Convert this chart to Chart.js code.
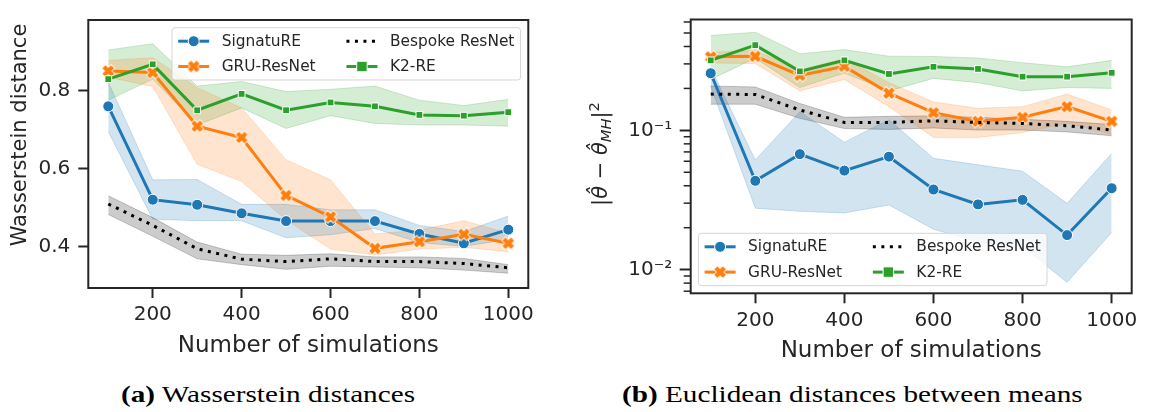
<!DOCTYPE html>
<html>
<head>
<meta charset="utf-8">
<script src="https://cdn.jsdelivr.net/npm/chart.js@4.4.1/dist/chart.umd.min.js"></script>
<style>
  html, body { margin: 0; padding: 0; background: #ffffff; }
  body { position: relative; width: 1150px; height: 412px; overflow: hidden; font-family: 'DejaVu Sans', sans-serif; }
  .panel { position: absolute; top: 0; }
  #panelA { left: 0; }
  #panelB { left: 575px; }
  .ylab { position: absolute; width: 300px; height: 30px; line-height: 30px; text-align: center;
          color: #262626; white-space: nowrap; transform: rotate(-90deg); font-size: 21px; }
  #ylabA { left: -131.5px; top: 119.5px; }
  #ylabB { left: 450px; top: 139px; }
  .ylab sub, .ylab sup { font-size: 70%; line-height: 0; }
  .ylab sub { vertical-align: -0.3em; }
  .ylab sup { vertical-align: 0.55em; }
  .cap { position: absolute; top: 381px; height: 28px; line-height: 28px; color: #000;
         font-family: 'Liberation Serif', serif; font-size: 23px; white-space: nowrap;
         transform-origin: 0 50%; transform: scaleX(1.27); }
  #capA { left: 121px; }
  #capB { left: 622px; }
</style>
</head>
<body>
<div class="panel" id="panelA"><canvas id="chartA" width="545" height="380"></canvas></div>
<div class="panel" id="panelB"><canvas id="chartB" width="575" height="380"></canvas></div>
<div class="ylab" id="ylabA">Wasserstein distance</div>
<div class="ylab" id="ylabB">|<i>θ̂</i> − <i>θ̂</i><sub><i>MH</i></sub>|<sup>2</sup></div>
<div class="cap" id="capA"><b>(a)</b> Wasserstein distances</div>
<div class="cap" id="capB"><b>(b)</b> Euclidean distances between means</div>
<script>
// ---- data ---------------------------------------------------------------
const SIMS = [100, 200, 300, 400, 500, 600, 700, 800, 900, 1000];
const SIM_TICKS = [200, 400, 600, 800, 1000];

// (a) Wasserstein distance: mean and band per method
const WASS_SIGNATURE    = [0.760, 0.520, 0.507, 0.485, 0.465, 0.465, 0.465, 0.432, 0.408, 0.443];
const WASS_SIGNATURE_LO = [0.695, 0.470, 0.466, 0.466, 0.422, 0.430, 0.446, 0.410, 0.400, 0.418];
const WASS_SIGNATURE_HI = [0.822, 0.571, 0.572, 0.508, 0.508, 0.494, 0.494, 0.454, 0.438, 0.478];
const WASS_GRU    = [0.851, 0.847, 0.709, 0.680, 0.531, 0.476, 0.395, 0.412, 0.431, 0.408];
const WASS_GRU_LO = [0.835, 0.811, 0.611, 0.567, 0.468, 0.393, 0.378, 0.393, 0.398, 0.386];
const WASS_GRU_HI = [0.878, 0.885, 0.808, 0.756, 0.623, 0.571, 0.432, 0.442, 0.466, 0.434];
const WASS_RESNET    = [0.509, 0.454, 0.394, 0.367, 0.361, 0.368, 0.361, 0.361, 0.356, 0.345];
const WASS_RESNET_LO = [0.482, 0.426, 0.368, 0.353, 0.341, 0.349, 0.347, 0.345, 0.339, 0.331];
const WASS_RESNET_HI = [0.530, 0.474, 0.411, 0.380, 0.377, 0.381, 0.373, 0.373, 0.369, 0.353];
const WASS_K2    = [0.830, 0.868, 0.750, 0.792, 0.750, 0.770, 0.760, 0.738, 0.736, 0.745];
const WASS_K2_LO = [0.776, 0.830, 0.712, 0.756, 0.703, 0.736, 0.716, 0.712, 0.712, 0.709];
const WASS_K2_HI = [0.905, 0.921, 0.812, 0.824, 0.798, 0.804, 0.812, 0.776, 0.762, 0.778];
const WASS_TICKS = [0.4, 0.6, 0.8];

// (b) squared distance between posterior means (log axis)
const EUC_SIGNATURE    = [0.257, 0.0434, 0.0675, 0.0514, 0.0647, 0.0376, 0.0294, 0.0317, 0.0177, 0.0384];
const EUC_SIGNATURE_LO = [0.207, 0.0276, 0.0262, 0.0255, 0.0291, 0.0195, 0.0158, 0.0146, 0.0081, 0.0185];
const EUC_SIGNATURE_HI = [0.280, 0.0613, 0.136, 0.0822, 0.119, 0.063, 0.0566, 0.0509, 0.0299, 0.0683];
const EUC_GRU    = [0.337, 0.340, 0.248, 0.288, 0.185, 0.134, 0.116, 0.124, 0.148, 0.116];
const EUC_GRU_LO = [0.305, 0.302, 0.192, 0.232, 0.148, 0.089, 0.089, 0.0964, 0.113, 0.0938];
const EUC_GRU_HI = [0.364, 0.374, 0.272, 0.327, 0.220, 0.160, 0.144, 0.148, 0.182, 0.140];
const EUC_RESNET    = [0.182, 0.181, 0.140, 0.114, 0.114, 0.117, 0.114, 0.112, 0.108, 0.1005];
const EUC_RESNET_LO = [0.154, 0.154, 0.122, 0.103, 0.1016, 0.104, 0.1005, 0.1005, 0.0974, 0.0914];
const EUC_RESNET_HI = [0.208, 0.205, 0.156, 0.124, 0.126, 0.127, 0.124, 0.120, 0.116, 0.110];
const EUC_K2    = [0.318, 0.409, 0.265, 0.318, 0.254, 0.286, 0.276, 0.243, 0.243, 0.259];
const EUC_K2_LO = [0.232, 0.330, 0.203, 0.258, 0.192, 0.236, 0.220, 0.192, 0.203, 0.200];
const EUC_K2_HI = [0.480, 0.506, 0.355, 0.380, 0.341, 0.339, 0.331, 0.306, 0.286, 0.318];
const EUC_MAJOR_TICKS = [0.01, 0.1];
const EUC_MAJOR_LABELS = ['10⁻²', '10⁻¹'];
const EUC_MINOR_TICKS = [0.007, 0.008, 0.009, 0.02, 0.03, 0.04, 0.05, 0.06, 0.07, 0.08, 0.09, 0.2, 0.3, 0.4, 0.5, 0.6];

// ---- styling --------------------------------------------------------------
const INK = '#262626';
Chart.defaults.font.family = "'DejaVu Sans', sans-serif";
Chart.defaults.color = INK;

function rgba(hex, a) {
  const n = parseInt(hex.slice(1), 16);
  return `rgba(${(n >> 16) & 255}, ${(n >> 8) & 255}, ${n & 255}, ${a})`;
}

// filled "X" marker with a thin white outline
function xMarker(color) {
  const c = document.createElement('canvas');
  c.width = c.height = 18;
  const g = c.getContext('2d');
  g.translate(9, 9);
  g.rotate(Math.PI / 4);
  const s = 6.1, h = 2.2;
  const pts = [[h, s], [h, h], [s, h], [s, -h], [h, -h], [h, -s], [-h, -s], [-h, -h], [-s, -h], [-s, h], [-h, h], [-h, s]];
  g.beginPath();
  pts.forEach((p, i) => (i ? g.lineTo(p[0], p[1]) : g.moveTo(p[0], p[1])));
  g.closePath();
  g.lineWidth = 1.6;
  g.strokeStyle = '#ffffff';
  g.stroke();
  g.fillStyle = color;
  g.fill();
  return c;
}

const STYLE = {
  'SignatuRE':      { color: '#1f77b4', marker: 'circle', radius: 5.5, legendRadius: 5.5 },
  'GRU-ResNet':     { color: '#ff7f0e', marker: xMarker('#ff7f0e'), radius: 5.5, legendRadius: 5.5 },
  'Bespoke ResNet': { color: '#000000', marker: null, dash: [3, 5.5] },
  'K2-RE':          { color: '#2ca02c', marker: 'rect', radius: 4.8, legendRadius: 7.4 }
};

function buildDatasets(table) {
  const out = [];
  table.forEach((s, k) => {
    const st = STYLE[s.name];
    const pts = arr => SIMS.map((x, i) => ({ x, y: arr[i] }));
    const band = rgba(st.color, 0.2);
    out.push({ data: pts(s.hi), borderColor: band, backgroundColor: band, borderWidth: 1,
               pointRadius: 0, fill: '+1', order: 20 });
    out.push({ data: pts(s.lo), borderColor: band, borderWidth: 1, pointRadius: 0, fill: false, order: 20 });
    out.push({
      label: s.name, legendRank: k, data: pts(s.mean),
      borderColor: st.color, borderWidth: 3, borderDash: st.dash || [], borderCapStyle: 'butt',
      pointStyle: st.marker || 'circle', pointRadius: st.marker ? st.radius : 0,
      pointBackgroundColor: st.color, pointBorderColor: '#ffffff', pointBorderWidth: 1,
      fill: false, order: 10 - k
    });
  });
  return out;
}

// ---- plugins: box frame, minor log ticks, two-column legend ---------------
const axesFrame = {
  id: 'axesFrame',
  afterDraw(chart, args, opts) {
    const { ctx, chartArea: a } = chart;
    ctx.save();
    ctx.strokeStyle = INK;
    if (opts.minorTicks) {
      const y = chart.scales.y;
      ctx.lineWidth = 1.5;
      opts.minorTicks.forEach(v => {
        const py = y.getPixelForValue(v);
        ctx.beginPath();
        ctx.moveTo(a.left - 7, py);
        ctx.lineTo(a.left, py);
        ctx.stroke();
      });
    }
    ctx.lineWidth = 2;
    ctx.strokeRect(a.left, a.top, a.right - a.left, a.bottom - a.top);
    ctx.restore();
  }
};

const seriesLegend = {
  id: 'seriesLegend',
  afterDraw(chart, args, opts) {
    const { ctx, chartArea: a } = chart;
    const fs = 15.4;
    const items = chart.data.datasets.filter(d => d.label).sort((p, q) => p.legendRank - q.legendRank);
    const ncol = 2, nrow = Math.ceil(items.length / ncol);
    ctx.save();
    ctx.font = `${fs}px 'DejaVu Sans', sans-serif`;
    const padX = 6.2, padY = 5, rowH = 17, gapY = 8.3, handle = 31, handlePad = 12.5, colGap = 30.8, axPad = 7.7;
    const colW = [];
    for (let c = 0; c < ncol; c++) {
      let w = 0;
      for (let r = 0; r < nrow; r++) {
        const it = items[c * nrow + r];
        if (it) w = Math.max(w, ctx.measureText(it.label).width);
      }
      colW.push(w);
    }
    const boxW = padX * 2 + colW.reduce((s, w) => s + handle + handlePad + w, 0) + colGap * (ncol - 1);
    const boxH = padY * 2 + nrow * rowH + (nrow - 1) * gapY;
    const bx = opts.corner === 'upper right' ? a.right - axPad - boxW : a.left + axPad;
    const by = opts.corner === 'upper right' ? a.top + axPad : a.bottom - axPad - boxH;

    ctx.beginPath();
    ctx.roundRect(bx, by, boxW, boxH, 3);
    ctx.fillStyle = 'rgba(255,255,255,0.8)';
    ctx.fill();
    ctx.lineWidth = 1;
    ctx.strokeStyle = 'rgba(204,204,204,0.8)';
    ctx.stroke();

    let cx = bx + padX;
    for (let c = 0; c < ncol; c++) {
      for (let r = 0; r < nrow; r++) {
        const it = items[c * nrow + r];
        if (!it) continue;
        const st = STYLE[it.label];
        const yy = by + padY + rowH / 2 + r * (rowH + gapY);
        ctx.save();
        ctx.strokeStyle = st.color;
        ctx.lineWidth = 3;
        ctx.lineCap = 'butt';
        ctx.setLineDash(st.dash || []);
        ctx.beginPath();
        ctx.moveTo(cx, yy);
        ctx.lineTo(cx + handle, yy);
        ctx.stroke();
        ctx.restore();
        if (st.marker) {
          ctx.save();
          ctx.fillStyle = st.color;
          ctx.strokeStyle = '#ffffff';
          ctx.lineWidth = 1;
          Chart.helpers.drawPoint(ctx, { pointStyle: st.marker, rotation: 0, radius: st.legendRadius, borderWidth: 1 },
                                  cx + handle / 2, yy);
          ctx.restore();
        }
        ctx.fillStyle = INK;
        ctx.textBaseline = 'middle';
        ctx.textAlign = 'left';
        ctx.fillText(it.label, cx + handle + handlePad, yy + 0.5);
      }
      cx += handle + handlePad + colW[c] + colGap;
    }
    ctx.restore();
  }
};

function xAxis(height, titlePad) {
  return {
    type: 'linear', min: 55, max: 1045,
    afterBuildTicks: s => { s.ticks = SIM_TICKS.map(v => ({ value: v })); },
    afterFit: s => { s.height = height; },
    ticks: { font: { size: 20 }, color: INK, padding: 5, maxRotation: 0, autoSkip: false, callback: v => String(v) },
    grid: { drawOnChartArea: false, drawTicks: true, tickLength: 10, tickWidth: 2, tickColor: INK },
    border: { display: false },
    title: { display: true, text: 'Number of simulations', font: { size: 23 }, color: INK,
             padding: { top: 0, bottom: titlePad } }
  };
}

function commonOptions(padding, legendCorner, minorTicks, xAx, yAx) {
  return {
    responsive: false, animation: false, events: [],
    layout: { padding },
    plugins: {
      legend: { display: false }, tooltip: { enabled: false },
      filler: { propagate: false, drawTime: 'beforeDatasetsDraw' },
      axesFrame: { minorTicks },
      seriesLegend: { corner: legendCorner }
    },
    scales: { x: xAx, y: yAx }
  };
}

// ---- panel (a) -----------------------------------------------------------
new Chart(document.getElementById('chartA'), {
  type: 'line',
  data: { datasets: buildDatasets([
    { name: 'SignatuRE', mean: WASS_SIGNATURE, lo: WASS_SIGNATURE_LO, hi: WASS_SIGNATURE_HI },
    { name: 'GRU-ResNet', mean: WASS_GRU, lo: WASS_GRU_LO, hi: WASS_GRU_HI },
    { name: 'Bespoke ResNet', mean: WASS_RESNET, lo: WASS_RESNET_LO, hi: WASS_RESNET_HI },
    { name: 'K2-RE', mean: WASS_K2, lo: WASS_K2_LO, hi: WASS_K2_HI }
  ]) },
  options: commonOptions({ top: 3.5, right: 16.7, bottom: 0, left: 0 }, 'upper right', null,
    xAxis(92, 20),
    {
      type: 'linear', min: 0.293, max: 0.982,
      afterBuildTicks: s => { s.ticks = WASS_TICKS.map(v => ({ value: v })); },
      afterFit: s => { s.width = 88.3; },
      ticks: { font: { size: 20 }, color: INK, padding: 8, autoSkip: false, callback: v => v.toFixed(1) },
      grid: { drawOnChartArea: false, drawTicks: true, tickLength: 10, tickWidth: 2, tickColor: INK },
      border: { display: false },
      title: { display: false }
    }),
  plugins: [axesFrame, seriesLegend]
});

// ---- panel (b) -----------------------------------------------------------
new Chart(document.getElementById('chartB'), {
  type: 'line',
  data: { datasets: buildDatasets([
    { name: 'SignatuRE', mean: EUC_SIGNATURE, lo: EUC_SIGNATURE_LO, hi: EUC_SIGNATURE_HI },
    { name: 'GRU-ResNet', mean: EUC_GRU, lo: EUC_GRU_LO, hi: EUC_GRU_HI },
    { name: 'Bespoke ResNet', mean: EUC_RESNET, lo: EUC_RESNET_LO, hi: EUC_RESNET_HI },
    { name: 'K2-RE', mean: EUC_K2, lo: EUC_K2_LO, hi: EUC_K2_HI }
  ]) },
  options: commonOptions({ top: 9.3, right: 18.3, bottom: 0, left: 0 }, 'lower left', EUC_MINOR_TICKS,
    xAxis(86.7, 15.5),
    {
      type: 'logarithmic', min: 0.00676, max: 0.625,
      afterBuildTicks: s => { s.ticks = EUC_MAJOR_TICKS.map(v => ({ value: v })); },
      afterFit: s => { s.width = 115.7; },
      ticks: { font: { size: 20 }, color: INK, padding: 7.5, autoSkip: false,
               callback: v => EUC_MAJOR_LABELS[EUC_MAJOR_TICKS.findIndex(t => Math.abs(t - v) < 1e-9)] ?? '' },
      grid: { drawOnChartArea: false, drawTicks: true, tickLength: 11, tickWidth: 2, tickColor: INK },
      border: { display: false },
      title: { display: false }
    }),
  plugins: [axesFrame, seriesLegend]
});
</script>
</body>
</html>
